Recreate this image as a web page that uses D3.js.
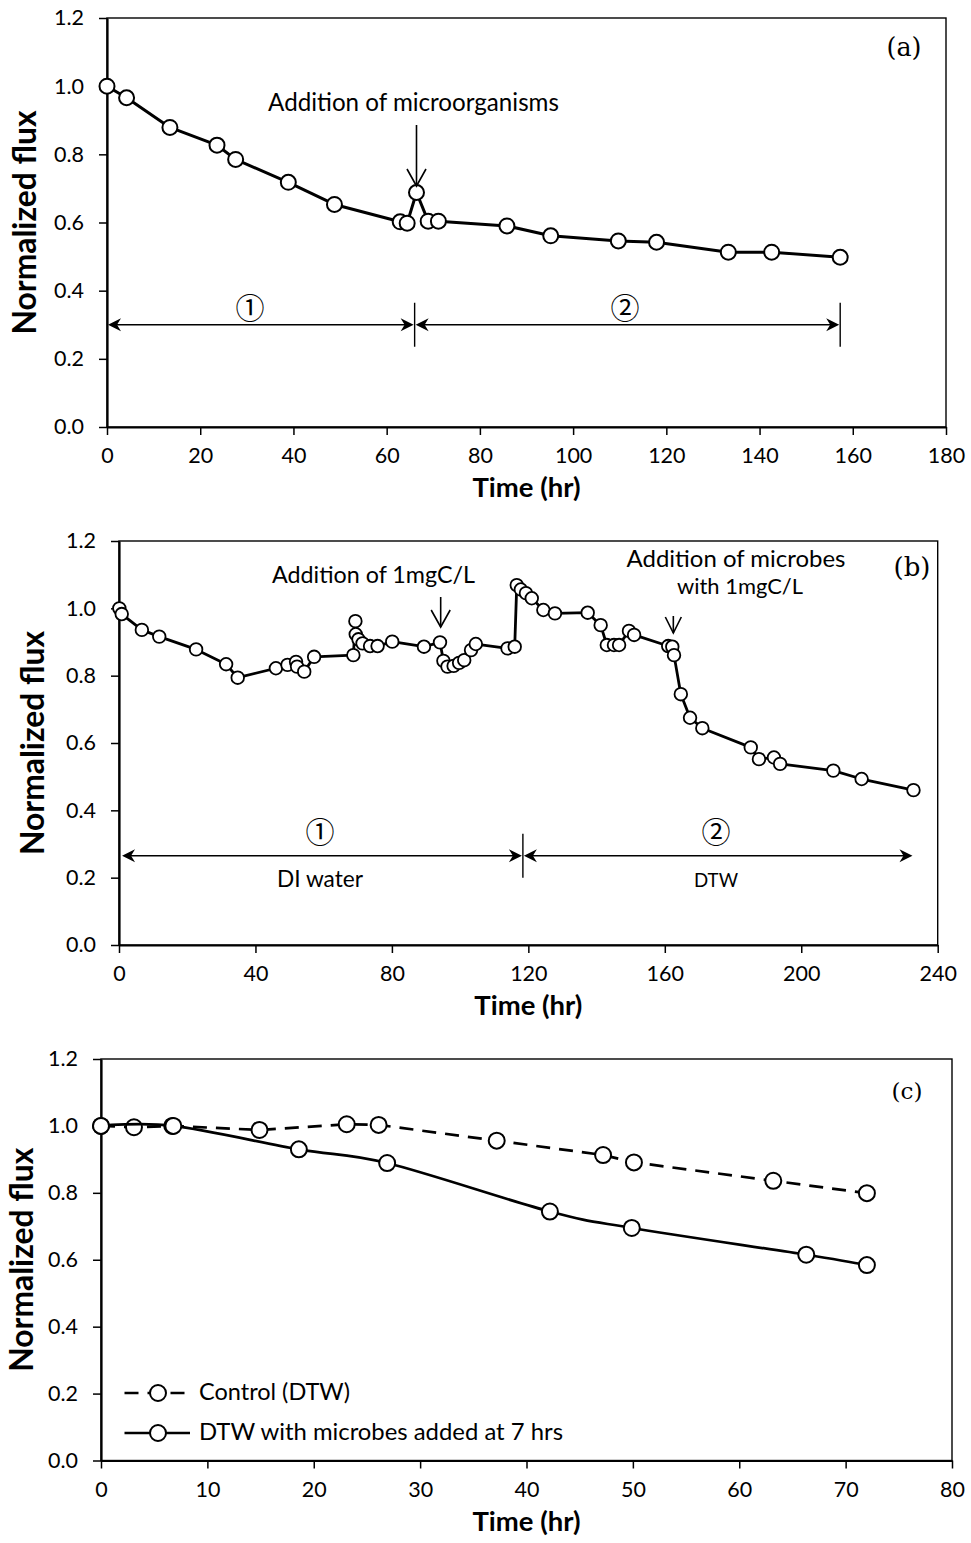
<!DOCTYPE html>
<html><head><meta charset="utf-8">
<script src="https://cdn.jsdelivr.net/npm/d3@7"></script>
<style>body{margin:0;background:#fff}</style>
</head><body>
<svg id="chart" width="971" height="1543"></svg>
<script>
// ---------------- data ----------------
const yTicks = [0, 0.2, 0.4, 0.6, 0.8, 1.0, 1.2];
const xTicksA = [0, 20, 40, 60, 80, 100, 120, 140, 160, 180];
const xTicksB = [0, 40, 80, 120, 160, 200, 240];
const xTicksC = [0, 10, 20, 30, 40, 50, 60, 70, 80];

const timeA = [0, 4.2, 13.5, 23.6, 27.6, 38.9, 48.8, 62.9, 64.4, 66.4, 68.9, 71.1, 85.8, 95.2, 109.7, 117.9, 133.3, 142.6, 157.3];
const fluxA = [1.0, 0.966, 0.879, 0.827, 0.785, 0.718, 0.653, 0.602, 0.598, 0.688, 0.604, 0.604, 0.590, 0.561, 0.546, 0.542, 0.513, 0.513, 0.498];

const timeB = [0.1, 0.8, 6.7, 11.8, 22.6, 31.4, 34.8, 46.0, 49.4, 51.9, 52.2, 54.3, 57.2, 68.7, 69.3, 69.4, 70.2, 71.4, 73.6, 75.8,
  80.1, 89.4, 94.1, 95.1, 96.3, 98.1, 99.7, 101.2, 103.2, 104.6, 113.9, 116.0, 116.6, 117.8, 119.3, 121.0, 124.4, 127.8, 137.4, 141.2,
  143.0, 145.1, 146.6, 149.5, 151.0, 161.0, 162.2, 162.7, 164.7, 167.4, 171.0, 185.2, 187.6, 192.0, 193.8, 209.4, 217.7, 232.9];
const fluxB = [1.000, 0.983, 0.936, 0.916, 0.878, 0.834, 0.794, 0.822, 0.832, 0.841, 0.827, 0.812, 0.856, 0.861, 0.962, 0.923, 0.908, 0.896, 0.888, 0.888,
  0.901, 0.886, 0.899, 0.844, 0.827, 0.829, 0.838, 0.846, 0.876, 0.894, 0.881, 0.886, 1.069, 1.056, 1.045, 1.030, 0.995, 0.985, 0.987, 0.950,
  0.891, 0.891, 0.891, 0.933, 0.921, 0.888, 0.886, 0.861, 0.745, 0.675, 0.644, 0.587, 0.552, 0.557, 0.538, 0.518, 0.493, 0.460];

const timeCtrl = [0, 3.1, 6.7, 14.9, 23.1, 26.1, 37.2, 47.2, 50.1, 63.2, 72.0];
const fluxCtrl = [1.0, 0.996, 1.0, 0.988, 1.005, 1.003, 0.956, 0.913, 0.891, 0.836, 0.799];
const timeMic = [0, 6.8, 18.6, 26.9, 42.2, 49.9, 66.3, 72.0];
const fluxMic = [1.0, 1.0, 0.930, 0.889, 0.744, 0.695, 0.615, 0.584];

const legendLabels = ["Control (DTW)", "DTW with microbes added at 7 hrs"];
const yTitle = "Normalized flux";
const xTitle = "Time (hr)";

// ---------------- drawing ----------------
const SANS = "Lato, 'Open Sans', 'DejaVu Sans', sans-serif";
const SERIF = "'DejaVu Serif', 'Liberation Serif', serif";
const CJK = "'Noto Sans CJK JP', 'DejaVu Sans', sans-serif";
const svg = d3.select('#chart');
svg.append('rect').attr('width', 971).attr('height', 1543).attr('fill', '#fff');

function fitWidth(sel, w) {
  const L = sel.node().getComputedTextLength();
  const fs = parseFloat(sel.attr('font-size'));
  sel.attr('font-size', (fs * w / L).toFixed(2));
  return sel;
}

// tick font size fitted so that "1.2" is ~30px wide
const probe = svg.append('text').attr('font-family', SANS).attr('font-size', 20).text('1.2');
fitWidth(probe, 30);
const tickFont = +probe.attr('font-size');
probe.remove();

function panel(cfg) {
  const g = svg.append('g');
  const x = d3.scaleLinear().domain(cfg.xDomain).range([cfg.left, cfg.right]);
  const y = d3.scaleLinear().domain([0, 1.2]).range([cfg.bottom, cfg.top]);
  g.append('rect').attr('x', cfg.left).attr('y', cfg.top)
    .attr('width', cfg.right - cfg.left).attr('height', cfg.bottom - cfg.top)
    .attr('fill', 'none').attr('stroke', '#000').attr('stroke-width', 1.4);
  const ya = g.append('g').attr('transform', `translate(${cfg.left},0)`)
    .call(d3.axisLeft(y).tickValues(yTicks).tickFormat(d3.format('.1f')).tickSize(8).tickSizeOuter(0).tickPadding(15));
  const xa = g.append('g').attr('transform', `translate(0,${cfg.bottom})`)
    .call(d3.axisBottom(x).tickValues(cfg.xTicks).tickFormat(d3.format('d')).tickSize(8).tickSizeOuter(0).tickPadding(13));
  [ya, xa].forEach(a => {
    a.select('.domain').attr('stroke', '#000').attr('stroke-width', 2.2);
    a.selectAll('.tick line').attr('stroke', '#000').attr('stroke-width', 1.5);
    a.selectAll('text').attr('font-family', SANS).attr('font-size', tickFont).attr('fill', '#000');
  });
  const xt = g.append('text').attr('x', (cfg.left + cfg.right) / 2).attr('y', cfg.bottom + 70)
    .attr('text-anchor', 'middle').attr('font-family', SANS).attr('font-weight', 'bold')
    .attr('font-size', 26).text(xTitle);
  fitWidth(xt, 108);
  const yt = g.append('text').attr('transform', `translate(${cfg.yTitleX},${(cfg.top + cfg.bottom) / 2}) rotate(-90)`)
    .attr('text-anchor', 'middle').attr('font-family', SANS).attr('font-weight', 'bold')
    .attr('font-size', 28).text(yTitle);
  fitWidth(yt, 224);
  return { g, x, y };
}

function series(p, xs, ys, opt) {
  const pts = xs.map((t, i) => [t, ys[i]]);
  const line = d3.line().x(d => p.x(d[0])).y(d => p.y(d[1]));
  if (opt.curve) line.curve(opt.curve);
  p.g.append('path').datum(pts).attr('d', line).attr('fill', 'none')
    .attr('stroke', '#000').attr('stroke-width', opt.lw)
    .attr('stroke-dasharray', opt.dash || null).attr('stroke-linejoin', 'round');
  p.g.append('g').selectAll('circle').data(pts).join('circle')
    .attr('cx', d => p.x(d[0])).attr('cy', d => p.y(d[1])).attr('r', opt.r)
    .attr('fill', '#fff').attr('stroke', '#000').attr('stroke-width', opt.mw);
}

function downArrow(g, x, y1, y2, hw, hh) {
  g.append('line').attr('x1', x).attr('x2', x).attr('y1', y1).attr('y2', y2)
    .attr('stroke', '#000').attr('stroke-width', 1.6);
  g.append('path').attr('d', `M${x - hw},${y2 - hh}L${x},${y2}L${x + hw},${y2 - hh}`)
    .attr('fill', 'none').attr('stroke', '#000').attr('stroke-width', 1.6);
}

function head(g, x, y, dir) {
  const L = 13, W = 6.5, I = 9;
  g.append('path').attr('d', `M${x},${y}L${x - dir * L},${y - W}L${x - dir * I},${y}L${x - dir * L},${y + W}Z`)
    .attr('fill', '#000');
}

function doubleArrows(p, yv, t0, tSep, t1, halfH) {
  const y = p.y(yv), x0 = p.x(t0), xs = p.x(tSep), x1 = p.x(t1);
  const g = p.g;
  [[x0 + 1, xs - 1], [xs + 1, x1 - 1]].forEach(([a, b]) => {
    g.append('line').attr('x1', a + 6).attr('x2', b - 6).attr('y1', y).attr('y2', y)
      .attr('stroke', '#000').attr('stroke-width', 1.6);
    head(g, a, y, -1); head(g, b, y, 1);
  });
  g.append('line').attr('x1', xs).attr('x2', xs).attr('y1', y - halfH).attr('y2', y + halfH)
    .attr('stroke', '#000').attr('stroke-width', 1.4);
  return { y, x0, xs, x1 };
}

function label(g, txt, x, y, w, anchor, fam, size) {
  const t = g.append('text').attr('x', x).attr('y', y).attr('text-anchor', anchor || 'middle')
    .attr('font-family', fam || SANS).attr('font-size', size || 22).attr('fill', '#000').text(txt);
  if (w) fitWidth(t, w);
  return t;
}

// ---------- panel (a) ----------
const pA = panel({ left: 107, right: 946, top: 18, bottom: 427, xDomain: [0, 180], xTicks: xTicksA, yTitleX: 36 });
series(pA, timeA, fluxA, { lw: 3, r: 7.5, mw: 2 });
label(pA.g, 'Addition of microorganisms', 413.5, 111, 291);
downArrow(pA.g, pA.x(66.4), 125, 186, 9.5, 17);
const dA = doubleArrows(pA, 0.3, 0, 66, 157.3, 22);
label(pA.g, '\u2460', 250, 319, null, 'middle', CJK, 29);
label(pA.g, '\u2461', 625, 319, null, 'middle', CJK, 29);
label(pA.g, '(a)', 904, 56, 35, 'middle', SERIF, 24);
pA.g.append('line').attr('x1', pA.x(157.3)).attr('x2', pA.x(157.3)).attr('y1', dA.y - 22).attr('y2', dA.y + 22)
  .attr('stroke', '#000').attr('stroke-width', 1.4);

// ---------- panel (b) ----------
const pB = panel({ left: 119, right: 937.7, top: 541, bottom: 945, xDomain: [0, 240], xTicks: xTicksB, yTitleX: 44 });
series(pB, timeB, fluxB, { lw: 2.8, r: 6.3, mw: 1.8 });
label(pB.g, 'Addition of 1mgC/L', 373.5, 583, 203);
downArrow(pB.g, pB.x(94.3), 597, 627, 9.5, 17);
label(pB.g, 'Addition of microbes', 736, 567, 219);
label(pB.g, 'with 1mgC/L', 740, 594, 126);
downArrow(pB.g, pB.x(162.5), 616, 633, 8, 16);
label(pB.g, '(b)', 912, 576, 37, 'middle', SERIF, 24);
doubleArrows(pB, 0.265, 0.6, 118.4, 232.9, 22);
label(pB.g, '\u2460', 320, 843, null, 'middle', CJK, 29);
label(pB.g, '\u2461', 716, 843, null, 'middle', CJK, 29);
label(pB.g, 'DI water', 320, 887, 86);
label(pB.g, 'DTW', 716, 887, 44);

// ---------- panel (c) ----------
const pC = panel({ left: 101, right: 952, top: 1059, bottom: 1460.5, xDomain: [0, 80], xTicks: xTicksC, yTitleX: 33 });
series(pC, timeCtrl, fluxCtrl, { lw: 2.7, r: 8, mw: 2, dash: '14,9' });
series(pC, timeMic, fluxMic, { lw: 2.7, r: 8, mw: 2, curve: d3.curveCatmullRom.alpha(0) });
label(pC.g, '(c)', 907, 1099, 31, 'middle', SERIF, 24);

// legend
const legY = [1393, 1433];
const legDash = ['14,9', null];
legendLabels.forEach((txt, i) => {
  const g = pC.g.append('g');
  g.append('line').attr('x1', 124.5).attr('x2', 190).attr('y1', legY[i]).attr('y2', legY[i])
    .attr('stroke', '#000').attr('stroke-width', 2.7).attr('stroke-dasharray', legDash[i]);
  g.append('circle').attr('cx', 158).attr('cy', legY[i]).attr('r', 8)
    .attr('fill', '#fff').attr('stroke', '#000').attr('stroke-width', 2);
  label(g, txt, 199, legY[i] + 7, i === 0 ? 151 : 364, 'start');
});
</script>
</body></html>
